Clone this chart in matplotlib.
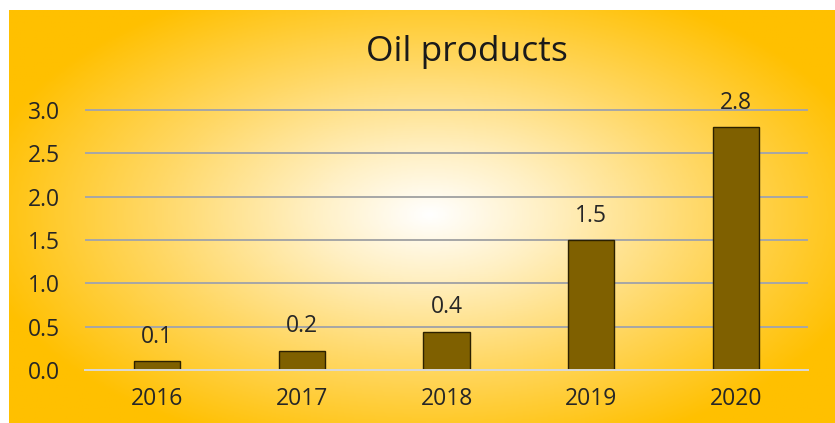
import numpy as np
import matplotlib.pyplot as plt
from matplotlib.colors import LinearSegmentedColormap

# chart data
years = ["2016", "2017", "2018", "2019", "2020"]
values = [0.1, 0.22, 0.44, 1.5, 2.8]
yticks = [0.0, 0.5, 1.0, 1.5, 2.0, 2.5, 3.0]

plt.rcParams['font.family'] = ['Open Sans', 'DejaVu Sans']

fig = plt.figure(figsize=(8.35, 4.23), dpi=100)
W, H = 835, 423

# radial gold background (white centre -> gold edges)
bg = fig.add_axes([9 / W, 0, 1 - 9 / W, 1 - 10 / H])
bg.set_axis_off()
xx, yy = np.meshgrid(np.linspace(9, 835, 400), np.linspace(10, 423, 200))
r = np.sqrt(((xx - 430) / 460) ** 2 + ((yy - 215) / 250) ** 2)
r = np.clip(r, 0, 1)
cmap = LinearSegmentedColormap.from_list(
    "gold", [(0, "#ffffff"), (0.25, "#fff0c4"), (0.6, "#ffd866"), (1, "#ffc000")])
bg.imshow(r, cmap=cmap, aspect='auto', extent=[0, 1, 1, 0], vmin=0, vmax=1)
bg.set_xlim(0, 1)
bg.set_ylim(1, 0)

# plot area
ax = fig.add_axes([85 / W, 1 - 370 / H, (808 - 85) / W, (370 - 110) / H * 3.25 / 3.0])
ax.patch.set_alpha(0)
x = np.arange(len(years))
bars = ax.bar(x, values, width=0.32, color="#7f6000", edgecolor="#2b2000", linewidth=1.0, zorder=3)

for xi, v in zip(x, values):
    ax.annotate(f"{v:.1f}", (xi, v), xytext=(0, 9), textcoords="offset points",
                ha="center", va="bottom", fontsize=16.5, color="#262626")

ax.set_xlim(-0.5, len(years) - 0.5)
ax.set_ylim(0, 3.25)
ax.set_yticks(yticks)
ax.set_yticklabels([f"{t:.1f}" for t in yticks])
ax.set_xticks(x)
ax.set_xticklabels(years)
ax.tick_params(axis='both', length=0, labelsize=16.5, labelcolor="#262626")
ax.tick_params(axis='y', pad=18)
ax.tick_params(axis='x', pad=12)
ax.grid(axis='y', color="#a6a6a6", linewidth=1.4, zorder=0)
for s in ["top", "right", "left"]:
    ax.spines[s].set_visible(False)
ax.spines["bottom"].set_color("#d9d9d9")
ax.spines["bottom"].set_linewidth(1.4)
ax.spines["bottom"].set_zorder(4)

fig.text(467 / W, 1 - 52 / H, "Oil products", ha="center", va="center",
         fontsize=25.5, color="#1a1a1a")

fig.savefig("out.png", dpi=100)
